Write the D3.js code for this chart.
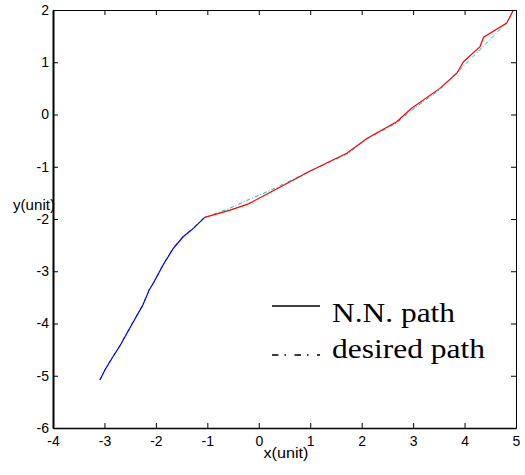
<!DOCTYPE html>
<html>
<head>
<meta charset="utf-8">
<script src="https://cdn.jsdelivr.net/npm/d3@7"></script>
<style>
  html, body { margin: 0; padding: 0; background: #fff; }
  svg { display: block; }
</style>
</head>
<body>
<script>
// ---- data ----
const xTicks = [-4, -3, -2, -1, 0, 1, 2, 3, 4, 5];
const yTicks = [-6, -5, -4, -3, -2, -1, 0, 1, 2];

// N.N. path, first part (blue)
const nnX1 = [-3.09, -2.99, -2.85, -2.70, -2.44, -2.26, -2.19, -2.13, -2.05, -1.86, -1.66, -1.47, -1.27, -1.05];
const nnY1 = [-5.08, -4.89, -4.66, -4.43, -3.97, -3.66, -3.50, -3.36, -3.23, -2.88, -2.56, -2.34, -2.18, -1.97];
// N.N. path, second part (red)
const nnX2 = [-1.05, -0.56, -0.20, 0.30, 1.00, 1.71, 2.10, 2.68, 2.97, 3.52, 3.85, 3.98, 4.30, 4.37, 4.82, 4.95];
const nnY2 = [-1.97, -1.83, -1.71, -1.45, -1.08, -0.74, -0.46, -0.14, 0.12, 0.50, 0.79, 1.01, 1.30, 1.48, 1.75, 2.00];
// desired path, first part (green)
const dX1 = [-3.08, -2.99, -2.85, -2.70, -2.44, -2.26, -2.19, -2.13, -2.05, -1.86, -1.66, -1.47, -1.27, -1.05];
const dY1 = [-5.07, -4.88, -4.65, -4.42, -3.96, -3.65, -3.49, -3.35, -3.22, -2.87, -2.55, -2.33, -2.17, -1.96];
// desired path, second part (cyan)
const dX2 = [-1.05, -0.60, -0.20, 0.30, 1.00, 1.71, 2.10, 2.68, 3.00, 3.52, 3.85, 4.37, 4.82, 4.95];
const dY2 = [-1.97, -1.81, -1.63, -1.42, -1.08, -0.76, -0.47, -0.16, 0.10, 0.48, 0.80, 1.31, 1.76, 1.99];

const legendLabels = ["N.N. path", "desired path"];

// ---- layout ----
const W = 525, H = 475;
const L = 53, R = 516, T = 10, B = 428;

const svg = d3.select("body").append("svg")
  .attr("width", W).attr("height", H)
  .style("font-family", "'Liberation Sans', Arial, sans-serif");

svg.append("rect").attr("width", W).attr("height", H).attr("fill", "#fff");

const x = d3.scaleLinear().domain([-4, 5]).range([L, R]);
const y = d3.scaleLinear().domain([-6, 2]).range([B, T]);

const line = d3.line().x(d => x(d[0])).y(d => y(d[1]));
const zip = (a, b) => a.map((v, i) => [v, b[i]]);
const fmt = d => String(d);

// desired path (dash-dot) drawn first
svg.append("path").datum(zip(dX1, dY1)).attr("d", line)
  .attr("fill", "none").attr("stroke", "#008000").attr("stroke-width", 1)
  .attr("stroke-dasharray", "4,2,1,2");
svg.append("path").datum(zip(dX2, dY2)).attr("d", line)
  .attr("fill", "none").attr("stroke", "#00bfbf").attr("stroke-width", 1)
  .attr("stroke-dasharray", "4,2,1,2");

// N.N. path
svg.append("path").datum(zip(nnX1, nnY1)).attr("d", line)
  .attr("fill", "none").attr("stroke", "#0000ff").attr("stroke-width", 1.2);
svg.append("path").datum(zip(nnX2, nnY2)).attr("d", line)
  .attr("fill", "none").attr("stroke", "#ff0000").attr("stroke-width", 1.2);

// ---- axes ----
const fs = "14px";
const gB = svg.append("g").attr("transform", `translate(0,${B})`)
  .call(d3.axisBottom(x).tickValues(xTicks).tickSizeInner(-5).tickSizeOuter(0).tickPadding(8).tickFormat(fmt));
const gT = svg.append("g").attr("transform", `translate(0,${T})`)
  .call(d3.axisTop(x).tickValues(xTicks).tickSizeInner(-5).tickSizeOuter(0).tickFormat(""));
const gL = svg.append("g").attr("transform", `translate(${L},0)`)
  .call(d3.axisLeft(y).tickValues(yTicks).tickSizeInner(-5).tickSizeOuter(0).tickPadding(4).tickFormat(fmt));
const gR = svg.append("g").attr("transform", `translate(${R},0)`)
  .call(d3.axisRight(y).tickValues(yTicks).tickSizeInner(-5).tickSizeOuter(0).tickFormat(""));

[gB, gT, gL, gR].forEach(g => {
  g.selectAll("text").style("font-size", fs).attr("fill", "#000")
   .style("font-family", "'Liberation Sans', Arial, sans-serif");
  g.selectAll("line").attr("stroke", "#000");
  g.select(".domain").attr("stroke", "#000");
});
gL.select(".domain").attr("stroke-width", 2);
gB.select(".domain").attr("stroke-width", 1.5);

// axis labels
svg.append("text").attr("x", 286).attr("y", 458).attr("text-anchor", "middle")
  .style("font-size", "14px").attr("textLength", 45).attr("lengthAdjust", "spacingAndGlyphs")
  .text("x(unit)");
svg.append("text").attr("x", 13).attr("y", 210)
  .style("font-size", "14px").attr("textLength", 42).attr("lengthAdjust", "spacingAndGlyphs")
  .text("y(unit)");

// ---- legend ----
const lg = svg.append("g").style("font-family", "'Liberation Serif', 'Times New Roman', serif");
const rows = [
  { ly: 306, ty: 321.5, dash: null, len: 123 },
  { ly: 355, ty: 357.5, dash: "6.5,6,1.5,8.5", len: 153 }
];
rows.forEach((r, i) => {
  lg.append("line").attr("x1", 272).attr("x2", 320).attr("y1", r.ly).attr("y2", r.ly)
    .attr("stroke", "#000").attr("stroke-width", 1.6)
    .attr("stroke-dasharray", r.dash);
  lg.append("text").attr("x", 332).attr("y", r.ty)
    .style("font-size", "27px").attr("textLength", r.len).attr("lengthAdjust", "spacingAndGlyphs")
    .text(legendLabels[i]);
});
</script>
</body>
</html>
